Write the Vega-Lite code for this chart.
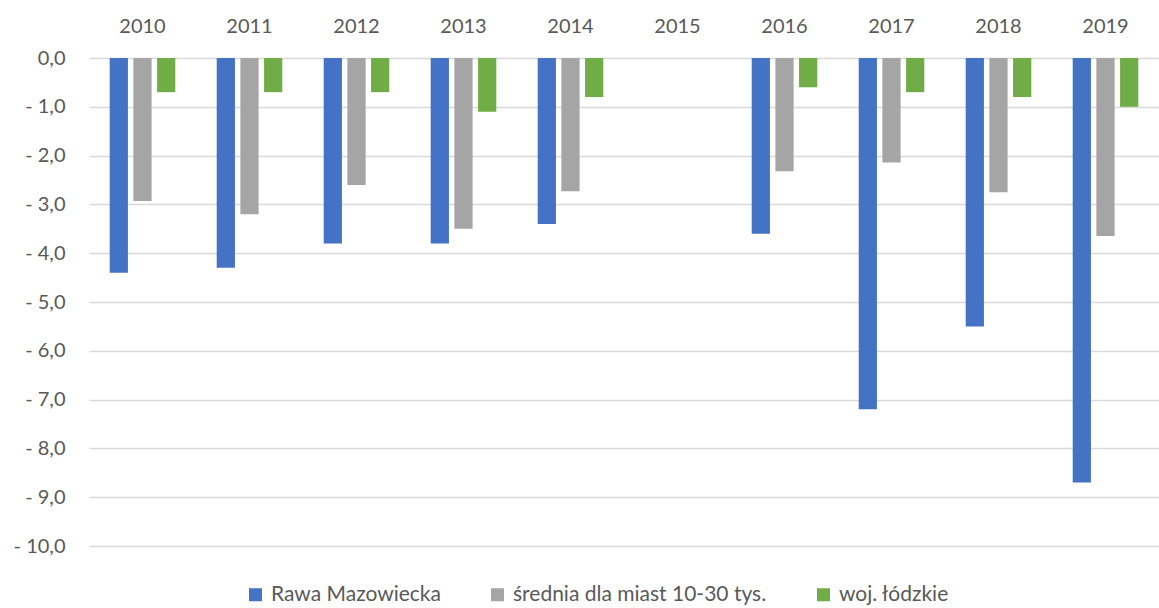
{
  "$schema": "https://vega.github.io/schema/vega-lite/v6.json",
  "width": 1070,
  "height": 488,
  "autosize": {"type": "none"},
  "padding": {"left": 89, "top": 58, "right": 0, "bottom": 62},
  "background": "white",
  "config": {
    "view": {"stroke": null},
    "font": "Lato",
    "axis": {"labelFont": "Lato", "labelColor": "#595959", "labelFontSize": 20}
  },
  "data": {
    "values": [
      {"year": "2010", "series": "Rawa Mazowiecka", "value": -4.4},
      {"year": "2010", "series": "średnia dla miast 10-30 tys.", "value": -2.93},
      {"year": "2010", "series": "woj. łódzkie", "value": -0.7},
      {"year": "2011", "series": "Rawa Mazowiecka", "value": -4.3},
      {"year": "2011", "series": "średnia dla miast 10-30 tys.", "value": -3.2},
      {"year": "2011", "series": "woj. łódzkie", "value": -0.7},
      {"year": "2012", "series": "Rawa Mazowiecka", "value": -3.8},
      {"year": "2012", "series": "średnia dla miast 10-30 tys.", "value": -2.6},
      {"year": "2012", "series": "woj. łódzkie", "value": -0.7},
      {"year": "2013", "series": "Rawa Mazowiecka", "value": -3.8},
      {"year": "2013", "series": "średnia dla miast 10-30 tys.", "value": -3.5},
      {"year": "2013", "series": "woj. łódzkie", "value": -1.1},
      {"year": "2014", "series": "Rawa Mazowiecka", "value": -3.4},
      {"year": "2014", "series": "średnia dla miast 10-30 tys.", "value": -2.73},
      {"year": "2014", "series": "woj. łódzkie", "value": -0.8},
      {"year": "2016", "series": "Rawa Mazowiecka", "value": -3.6},
      {"year": "2016", "series": "średnia dla miast 10-30 tys.", "value": -2.32},
      {"year": "2016", "series": "woj. łódzkie", "value": -0.6},
      {"year": "2017", "series": "Rawa Mazowiecka", "value": -7.2},
      {"year": "2017", "series": "średnia dla miast 10-30 tys.", "value": -2.14},
      {"year": "2017", "series": "woj. łódzkie", "value": -0.7},
      {"year": "2018", "series": "Rawa Mazowiecka", "value": -5.5},
      {"year": "2018", "series": "średnia dla miast 10-30 tys.", "value": -2.75},
      {"year": "2018", "series": "woj. łódzkie", "value": -0.8},
      {"year": "2019", "series": "Rawa Mazowiecka", "value": -8.7},
      {"year": "2019", "series": "średnia dla miast 10-30 tys.", "value": -3.65},
      {"year": "2019", "series": "woj. łódzkie", "value": -1.0}
    ]
  },
  "mark": {"type": "bar"},
  "encoding": {
    "x": {
      "field": "year",
      "type": "nominal",
      "scale": {
        "domain": ["2010", "2011", "2012", "2013", "2014", "2015", "2016", "2017", "2018", "2019"],
        "paddingInner": 0.387,
        "paddingOuter": 0.1935
      },
      "axis": {
        "orient": "top",
        "title": null,
        "labelAngle": 0,
        "domain": false,
        "ticks": false,
        "labelPadding": 22
      }
    },
    "xOffset": {
      "field": "series",
      "type": "nominal",
      "scale": {
        "domain": ["Rawa Mazowiecka", "średnia dla miast 10-30 tys.", "woj. łódzkie"],
        "paddingInner": 0.23,
        "paddingOuter": 0
      }
    },
    "y": {
      "field": "value",
      "type": "quantitative",
      "scale": {"domain": [-10, 0], "nice": false},
      "axis": {
        "title": null,
        "values": [0, -1, -2, -3, -4, -5, -6, -7, -8, -9, -10],
        "labelExpr": "datum.value == 0 ? '0,0' : '- ' + replace(format(-datum.value, '.1f'), '.', ',')",
        "domain": false,
        "ticks": false,
        "labelPadding": 24,
        "gridColor": "#d9d9d9",
        "gridWidth": 1.3
      }
    },
    "color": {
      "field": "series",
      "type": "nominal",
      "scale": {
        "domain": ["Rawa Mazowiecka", "średnia dla miast 10-30 tys.", "woj. łódzkie"],
        "range": ["#4472C4", "#A5A5A5", "#70AD47"]
      },
      "legend": {
        "orient": "none",
        "direction": "horizontal",
        "legendX": 156,
        "legendY": 526,
        "title": null,
        "symbolType": "square",
        "symbolSize": 169,
        "symbolStrokeWidth": 0,
        "labelFont": "Lato",
        "labelFontSize": 21,
        "labelColor": "#595959",
        "labelOffset": 5,
        "labelLimit": 500,
        "columnPadding": 46
      }
    }
  }
}
